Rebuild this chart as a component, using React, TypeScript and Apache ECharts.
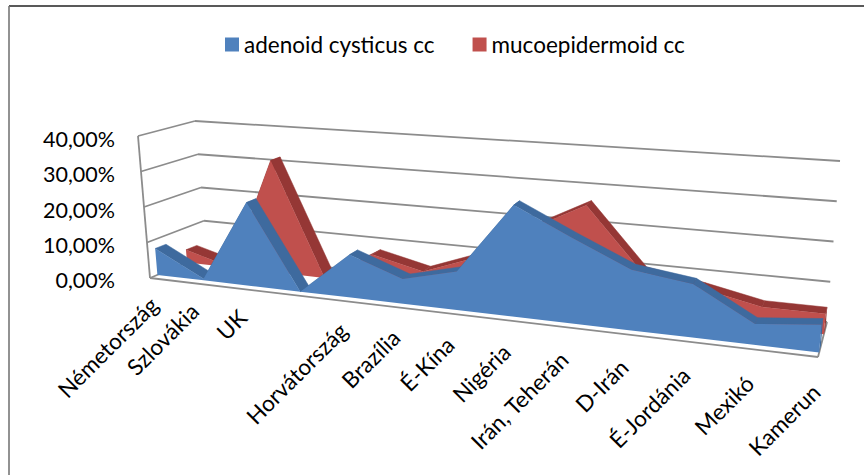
import React, { useEffect, useRef } from "react";
import * as echarts from "echarts";

const categories = ["Németország", "Szlovákia", "UK", "", "Horvátország", "Brazília", "É-Kína", "Nigéria", "Irán, Teherán", "D-Irán", "É-Jordánia", "Mexikó", "Kamerun"];
const adenoid = [7.5, 0.4, 23, 0, 11.5, 6.5, 10, 28.5, 21.5, 15, 13, 5, 6.5];
const mucoepidermoid = [3.7, 0, 32, 0, 8, 4.8, 10, 19, 26.5, 10.5, 8, 5, 5];
const yTicks = [0, 10, 20, 30, 40];

const FONT = "Lato, Carlito, sans-serif";
const GRID = { left: 128, top: 139, width: 690, height: 141 };
// Perspective frame of the 3D box: [u, v, w] corners (front/back, bottom/top, left/right)
const FRAME = {
  flb: [150, 278], flt: [138, 136], frb: [818, 357], frt: [832, 186],
  blb: [207, 254], blt: [195, 121], brb: [827, 322], brt: [840, 161],
};
const PERSPECTIVE = 1.21;
const warp = (u: number) => u / (u + PERSPECTIVE * (1 - u));
const mix = (a: number[], b: number[], t: number) => [a[0] + (b[0] - a[0]) * t, a[1] + (b[1] - a[1]) * t];
function project(u0: number, v: number, w: number) {
  const u = warp(u0);
  const fb = mix(FRAME.flb, FRAME.frb, u);
  const ft = mix(FRAME.flt, FRAME.frt, u);
  const bb = mix(FRAME.blb, FRAME.brb, u);
  const bt = mix(FRAME.blt, FRAME.brt, u);
  return mix(mix(fb, ft, v), mix(bb, bt, v), w);
}

const frameOf = (api: any, i: number, val: number) => {
  const p = api.coord([i, val]);
  return [(p[0] - GRID.left) / GRID.width, (GRID.top + GRID.height - p[1]) / GRID.height];
};

function ribbonSeries(name: string, values: number[], color: string, dark: string, w0: number, w1: number, z: number) {
  return {
    type: "custom",
    name,
    z,
    clip: false,
    silent: true,
    itemStyle: { color },
    data: values.map((v, i) => [i, v]),
    encode: { x: 0, y: 1 },
    renderItem: (params: any, api: any) => {
      if (params.dataIndex !== 0) return null;
      const children: any[] = [];
      const pts = values.map((v, i) => frameOf(api, i, v));
      const base = values.map((_, i) => frameOf(api, i, 0));
      for (let i = 0; i < pts.length - 1; i++) {
        children.push({
          type: "polygon",
          shape: { points: [project(pts[i][0], pts[i][1], w0), project(pts[i + 1][0], pts[i + 1][1], w0), project(pts[i + 1][0], pts[i + 1][1], w1), project(pts[i][0], pts[i][1], w1)] },
          style: { fill: dark, stroke: dark, lineWidth: 0.5 },
        });
      }
      const n = pts.length - 1;
      children.push({
        type: "polygon",
        shape: { points: [project(pts[n][0], pts[n][1], w0), project(pts[n][0], pts[n][1], w1), project(base[n][0], 0, w1), project(base[n][0], 0, w0)] },
        style: { fill: dark },
      });
      const front = [...pts.map((p) => project(p[0], p[1], w0)), ...base.slice().reverse().map((p) => project(p[0], 0, w0))];
      children.push({ type: "polygon", shape: { points: front }, style: { fill: color } });
      return { type: "group", children };
    },
  };
}

const GRAY = "#8c8c8c";
const frameSeries = {
  type: "custom",
  name: "frame",
  z: 1,
  clip: false,
  silent: true,
  data: yTicks.map((t) => [0, t]),
  encode: { x: 0, y: 1 },
  renderItem: (params: any, api: any) => {
    const v = frameOf(api, 0, api.value(1))[1];
    const line = (a: number[], b: number[]) => ({ type: "line", shape: { x1: a[0], y1: a[1], x2: b[0], y2: b[1] }, style: { stroke: GRAY, lineWidth: 1.8 } });
    const children: any[] = [line(project(0, v, 0), project(0, v, 1)), line(project(0, v, 1), project(1, v, 1))];
    if (params.dataIndex === 0) {
      children.push(line(project(0, 0, 0), project(1, 0, 0)));
      children.push(line(project(1, 0, 0), project(1, 0, 1)));
      children.push(line(project(0, 0, 0), project(0, 1, 0)));
    }
    return { type: "group", children };
  },
};

const labelSeries = {
  type: "custom",
  name: "labels",
  z: 5,
  clip: false,
  silent: true,
  data: categories.map((_, i) => [i, 0]),
  encode: { x: 0, y: 1 },
  renderItem: (params: any, api: any) => {
    const f = frameOf(api, api.value(0), 0);
    const p = project(f[0], 0, 0);
    const first = params.dataIndex === 0;
    return {
      type: "text",
      x: p[0] - 2 + (first ? 6 : 0),
      y: p[1] + 31 - 8 * (1 - f[0]),
      rotation: Math.PI / 4,
      style: { text: categories[params.dataIndex], font: `22.5px ${FONT}`, fill: "#000", textAlign: "right", textVerticalAlign: "middle" },
    };
  },
};

export default function App() {
  const ref = useRef<HTMLDivElement>(null);
  useEffect(() => {
    const chart = echarts.init(ref.current!, null, { renderer: "svg" });
    chart.setOption({
      animation: false,
      backgroundColor: "#fff",
      graphic: [
        { type: "line", shape: { x1: 9, y1: 6, x2: 864, y2: 6 }, style: { stroke: "#222", lineWidth: 1.6 }, z: 0 },
        { type: "line", shape: { x1: 9, y1: 6, x2: 9, y2: 475 }, style: { stroke: "#777", lineWidth: 1.6 }, z: 0 },
      ],
      legend: {
        top: 28,
        left: 220,
        itemWidth: 14,
        itemHeight: 14,
        itemGap: 38,
        icon: "rect",
        textStyle: { fontFamily: FONT, fontSize: 22.5, color: "#000" },
        data: [
          { name: "adenoid cysticus cc", itemStyle: { color: "#4F81BD" } },
          { name: "mucoepidermoid cc", itemStyle: { color: "#C0504D" } },
        ],
      },
      grid: { ...GRID },
      xAxis: { type: "category", data: categories, boundaryGap: false, axisLine: { show: false }, axisTick: { show: false }, axisLabel: { show: false }, splitLine: { show: false } },
      yAxis: {
        type: "value",
        min: 0,
        max: 40,
        interval: 10,
        axisLine: { show: false },
        axisTick: { show: false },
        splitLine: { show: false },
        axisLabel: { fontFamily: FONT, fontSize: 21.5, color: "#000", margin: 13, formatter: (v: number) => `${v.toFixed(2).replace(".", ",")}%` },
      },
      series: [
        frameSeries,
        ribbonSeries("mucoepidermoid cc", mucoepidermoid, "#C0504D", "#953735", 0.65, 0.84, 2),
        ribbonSeries("adenoid cysticus cc", adenoid, "#4F81BD", "#3E6A9E", 0.13, 0.32, 3),
        labelSeries,
      ],
    });
    return () => chart.dispose();
  }, []);
  return <div ref={ref} style={{ width: 864, height: 475, position: "absolute", left: 0, top: 0 }} />;
}
